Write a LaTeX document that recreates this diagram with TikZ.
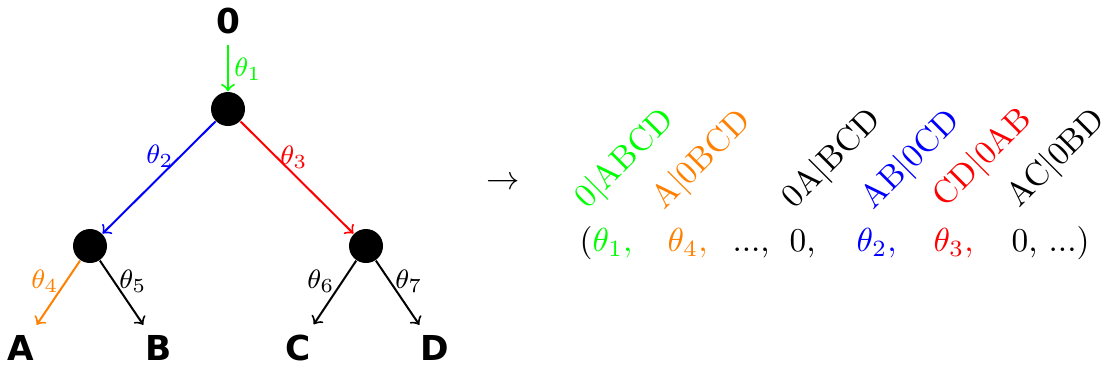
\documentclass[tikz,border=0pt]{standalone}
\usepackage{fontspec}
\newfontfamily\labfont{DejaVu Sans}
\begin{document}
\begin{tikzpicture}[x=0.3pt,y=-0.3pt,
  lab/.style={font=\labfont\bfseries\fontsize{10.3}{12}\selectfont, inner sep=3pt},
  dot/.style={circle, fill=black, inner sep=0pt, minimum size=10.2pt},
  th/.style={font=\fontsize{8}{10}\selectfont, inner sep=0pt},
  edge/.style={->, line width=0.6pt},
  tup/.style={font=\fontsize{10}{12}\selectfont, anchor=base west, inner sep=0pt},
  rot/.style={font=\fontsize{10}{12}\selectfont, rotate=45, anchor=base west, inner sep=0pt}]
\useasboundingbox (0,0) rectangle (1107,370);
% tree
\node[lab] (n0) at (228,21) {0};
\node[dot] (r) at (228,109) {};
\node[dot] (l) at (90,246) {};
\node[dot] (rr) at (366,246) {};
\node[lab] (A) at (21,348) {A};
\node[lab] (B) at (159,348) {B};
\node[lab] (C) at (298,348) {C};
\node[lab] (D) at (435,348) {D};
\draw[edge, green] (n0) -- (r);
\draw[edge, blue] (r) -- (l);
\draw[edge, red] (r) -- (rr);
\draw[edge, orange] (l) -- (A);
\draw[edge] (l) -- (B);
\draw[edge] (rr) -- (C);
\draw[edge] (rr) -- (D);
\node[th, green] (t1) at (248,69) {$\theta_1$};
\node[th, blue] (t2) at (160,156) {$\theta_2$};
\node[th, red] (t3) at (294,157) {$\theta_3$};
\node[th, orange] (t4) at (45,281) {$\theta_4$};
\node[th] (t5) at (133,281) {$\theta_5$};
\node[th] (t6) at (321,281) {$\theta_6$};
\node[th] (t7) at (409,281) {$\theta_7$};
% arrow
\node[font=\fontsize{10}{12}\selectfont] (arr) at (503,183) {$\rightarrow$};
% rotated labels
\node[rot, green] (p1) at (587,210) {0$|$ABCD};
\node[rot, orange] (p2) at (664,211) {A$|$0BCD};
\node[rot] (p3) at (794,210) {0A$|$BCD};
\node[rot, blue] (p4) at (873,211) {AB$|$0CD};
\node[rot, red] (p5) at (945,209) {CD$|$0AB};
\node[rot] (p6) at (1019,209) {AC$|$0BD};
% tuple
\node[tup] (v1) at (579,251) {$(\textcolor{green}{\theta_1,}$};
\node[tup, orange] (v2) at (667,251) {$\theta_4,$};
\node[tup] (v3) at (732,251) {...,};
\node[tup] (v4) at (789,251) {0,};
\node[tup, blue] (v5) at (856,251) {$\theta_2,$};
\node[tup, red] (v6) at (933,251) {$\theta_3,$};
\node[tup] (v7) at (1011,251) {0, ...)};
\end{tikzpicture}
\end{document}
